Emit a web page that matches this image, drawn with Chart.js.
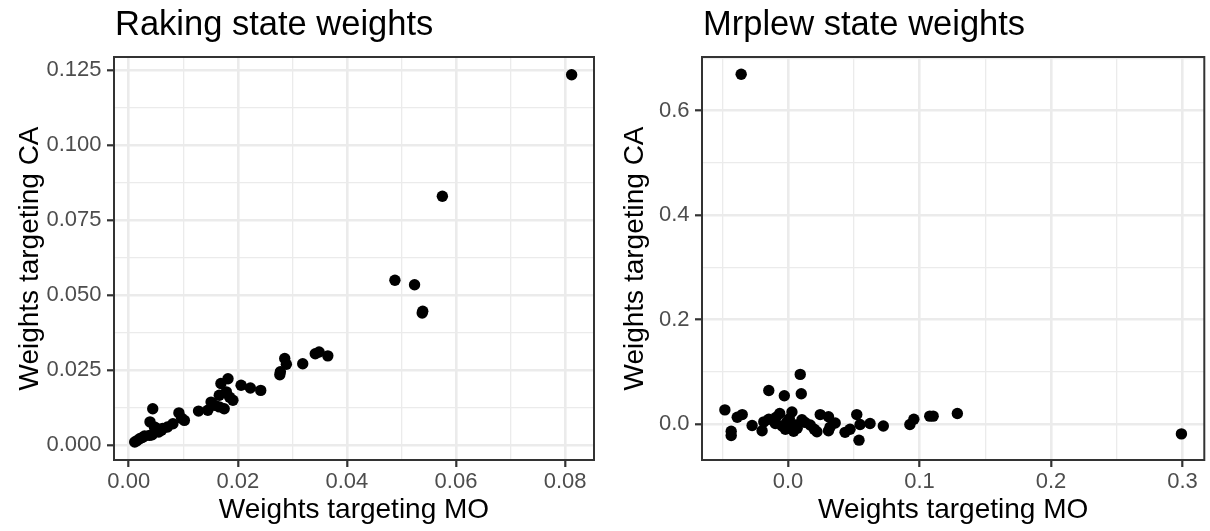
<!DOCTYPE html>
<html>
<head>
<meta charset="utf-8">
<script src="https://cdn.jsdelivr.net/npm/chart.js@4.4.1/dist/chart.umd.min.js"></script>
<style>
  html, body { margin: 0; padding: 0; background: #ffffff; }
  #wrap { position: relative; width: 1210px; height: 531px; background: #fff; }
  .pane { position: absolute; top: 0; width: 605px; height: 531px; }
  #paneL { left: 0; }
  #paneR { left: 605px; }
</style>
</head>
<body>
<div id="wrap">
  <div class="pane" id="paneL"><canvas id="cL" width="605" height="531"></canvas></div>
  <div class="pane" id="paneR"><canvas id="cR" width="605" height="531"></canvas></div>
</div>
<script>
// ---------- Data: Raking state weights ----------
const rakingMO = [0.0812, 0.0575, 0.0488, 0.0524, 0.0539, 0.0538, 0.0349, 0.0342, 0.0365, 0.0319,
  0.0286, 0.0289, 0.0278, 0.0277, 0.0242, 0.0223, 0.0206, 0.0182, 0.0169, 0.0179,
  0.0166, 0.0191, 0.0185, 0.0166, 0.0175, 0.0151, 0.0145, 0.0128, 0.0158, 0.0092,
  0.0102, 0.0097, 0.0081, 0.0071, 0.0062, 0.0055, 0.0047, 0.0044, 0.0039, 0.0038,
  0.0029, 0.0020, 0.0011, 0.0015, 0.0025, 0.0060, 0.0043, 0.0050];
const rakingCA = [0.1235, 0.0830, 0.0550, 0.0535, 0.0447, 0.0441, 0.0311, 0.0305, 0.0298, 0.0272,
  0.0289, 0.0270, 0.0245, 0.0235, 0.0183, 0.0191, 0.0200, 0.0222, 0.0206, 0.0178,
  0.0167, 0.0150, 0.0160, 0.0128, 0.0122, 0.0144, 0.0117, 0.0114, 0.0133, 0.0108,
  0.0083, 0.0090, 0.0072, 0.0061, 0.0056, 0.0044, 0.0061, 0.0122, 0.0078, 0.0033,
  0.0031, 0.0022, 0.0011, 0.0015, 0.0026, 0.0050, 0.0035, 0.0058];

// ---------- Data: Mrplew state weights ----------
const mrplewMO = [-0.0356, 0.2992, 0.0093, -0.0146, -0.0028, 0.0101, -0.0480, -0.0386, -0.0348, -0.0432,
  -0.0432, -0.0273, -0.0197, -0.0184, -0.0146, -0.0096, -0.0063, -0.0045, -0.0008, 0.0030,
  0.0043, 0.0056, 0.0106, 0.0169, 0.0220, 0.0245, 0.0308, 0.0308, 0.0359, 0.0434,
  0.0472, 0.0523, 0.0548, 0.0540, 0.0624, 0.0725, 0.0927, 0.0957, 0.1078, 0.1104,
  0.1288, -0.0090, 0.0010, 0.0070, 0.0200, 0.0320, -0.0020, 0.0130];
const mrplewCA = [0.670, -0.019, 0.095, 0.064, 0.054, 0.058, 0.027, 0.013, 0.018, -0.014,
  -0.022, -0.003, -0.013, 0.004, 0.009, 0.001, 0.020, -0.004, 0.004, 0.023,
  -0.014, -0.002, 0.008, -0.002, -0.015, 0.018, 0.014, -0.013, 0.002, -0.016,
  -0.010, 0.018, -0.001, -0.031, 0.001, -0.004, -0.001, 0.009, 0.015, 0.015,
  0.020, 0.013, 0.010, -0.008, -0.010, -0.006, -0.010, 0.003];

// ---------- Ticks ----------
const rakingXMajor = [0, 0.02, 0.04, 0.06, 0.08];
const rakingXLabels = ['0.00', '0.02', '0.04', '0.06', '0.08'];
const rakingXMinor = [0.01, 0.03, 0.05, 0.07];
const rakingYMajor = [0, 0.025, 0.05, 0.075, 0.1, 0.125];
const rakingYLabels = ['0.000', '0.025', '0.050', '0.075', '0.100', '0.125'];
const rakingYMinor = [0.0125, 0.0375, 0.0625, 0.0875, 0.1125];

const mrplewXMajor = [0, 0.1, 0.2, 0.3];
const mrplewXLabels = ['0.0', '0.1', '0.2', '0.3'];
const mrplewXMinor = [-0.05, 0.05, 0.15, 0.25];
const mrplewYMajor = [0, 0.2, 0.4, 0.6];
const mrplewYLabels = ['0.0', '0.2', '0.4', '0.6'];
const mrplewYMinor = [0.1, 0.3, 0.5, 0.7];

const FONT = '"Liberation Sans", Arial, Helvetica, sans-serif';

const panelPlugin = {
  id: 'panel',
  afterDatasetsDraw(chart) {
    const {ctx, chartArea: a} = chart;
    ctx.save();
    ctx.strokeStyle = '#333333';
    ctx.lineWidth = 2;
    ctx.strokeRect(a.left, a.top, a.right - a.left, a.bottom - a.top);
    ctx.restore();
  },
  afterDraw(chart, args, opts) {
    const {ctx, chartArea: a} = chart;
    ctx.save();
    ctx.fillStyle = '#000000';
    ctx.font = '34.5px ' + FONT;
    ctx.textAlign = 'left';
    ctx.textBaseline = 'alphabetic';
    ctx.fillText(opts.title, a.left + 1, 35);
    ctx.restore();
  }
};

function makeScale(axis, min, max, majors, labels, minors, title, fixedSize) {
  const all = majors.concat(minors);
  const isMajor = v => majors.indexOf(v) >= 0;
  return {
    type: 'linear',
    position: axis === 'x' ? 'bottom' : 'left',
    min: min, max: max,
    bounds: 'data',
    afterBuildTicks: s => { s.ticks = all.slice().sort((p, q) => p - q).map(v => ({value: v})); },
    afterFit: s => { if (axis === 'x') s.height = fixedSize; else s.width = fixedSize; },
    border: { display: false },
    grid: {
      color: '#EBEBEB',
      lineWidth: c => (c.tick && isMajor(c.tick.value)) ? 2.6 : 1.3,
      drawTicks: true,
      tickLength: 7,
      tickWidth: 2.2,
      tickColor: c => (c.tick && isMajor(c.tick.value)) ? '#333333' : 'rgba(0,0,0,0)'
    },
    ticks: {
      autoSkip: false,
      maxRotation: 0,
      minRotation: 0,
      color: '#4D4D4D',
      font: { family: FONT, size: 22, lineHeight: 1.2 },
      padding: axis === 'x' ? 2 : 5.5,
      callback: v => { const i = majors.indexOf(v); return i >= 0 ? labels[i] : ''; }
    },
    title: {
      display: true,
      text: title,
      color: '#000000',
      font: { family: FONT, size: 28, lineHeight: 1.2 },
      padding: axis === 'x' ? { top: 0, bottom: 4 } : { top: 13, bottom: 0 }
    }
  };
}

function makeChart(id, xs, ys, title, xScale, yScale, padRight) {
  const pts = xs.map((x, i) => ({x: x, y: ys[i]}));
  return new Chart(document.getElementById(id), {
    type: 'scatter',
    data: { datasets: [{ data: pts, backgroundColor: '#000000', borderWidth: 0, pointRadius: 5.7, pointHoverRadius: 5.7 }] },
    options: {
      responsive: false,
      animation: false,
      devicePixelRatio: 1,
      layout: { padding: { left: 0, right: padRight, top: 57, bottom: 0 } },
      plugins: { legend: { display: false }, tooltip: { enabled: false }, panel: { title: title } },
      scales: { x: xScale, y: yScale }
    },
    plugins: [panelPlugin]
  });
}

makeChart('cL', rakingMO, rakingCA, 'Raking state weights',
  makeScale('x', -0.0027, 0.0853, rakingXMajor, rakingXLabels, rakingXMinor, 'Weights targeting MO', 71),
  makeScale('y', -0.0049, 0.1294, rakingYMajor, rakingYLabels, rakingYMinor, 'Weights targeting CA', 114),
  11);

makeChart('cR', mrplewMO, mrplewCA, 'Mrplew state weights',
  makeScale('x', -0.0654, 0.3166, mrplewXMajor, mrplewXLabels, mrplewXMinor, 'Weights targeting MO', 71),
  makeScale('y', -0.069, 0.703, mrplewYMajor, mrplewYLabels, mrplewYMinor, 'Weights targeting CA', 97),
  3);
</script>
</body>
</html>
